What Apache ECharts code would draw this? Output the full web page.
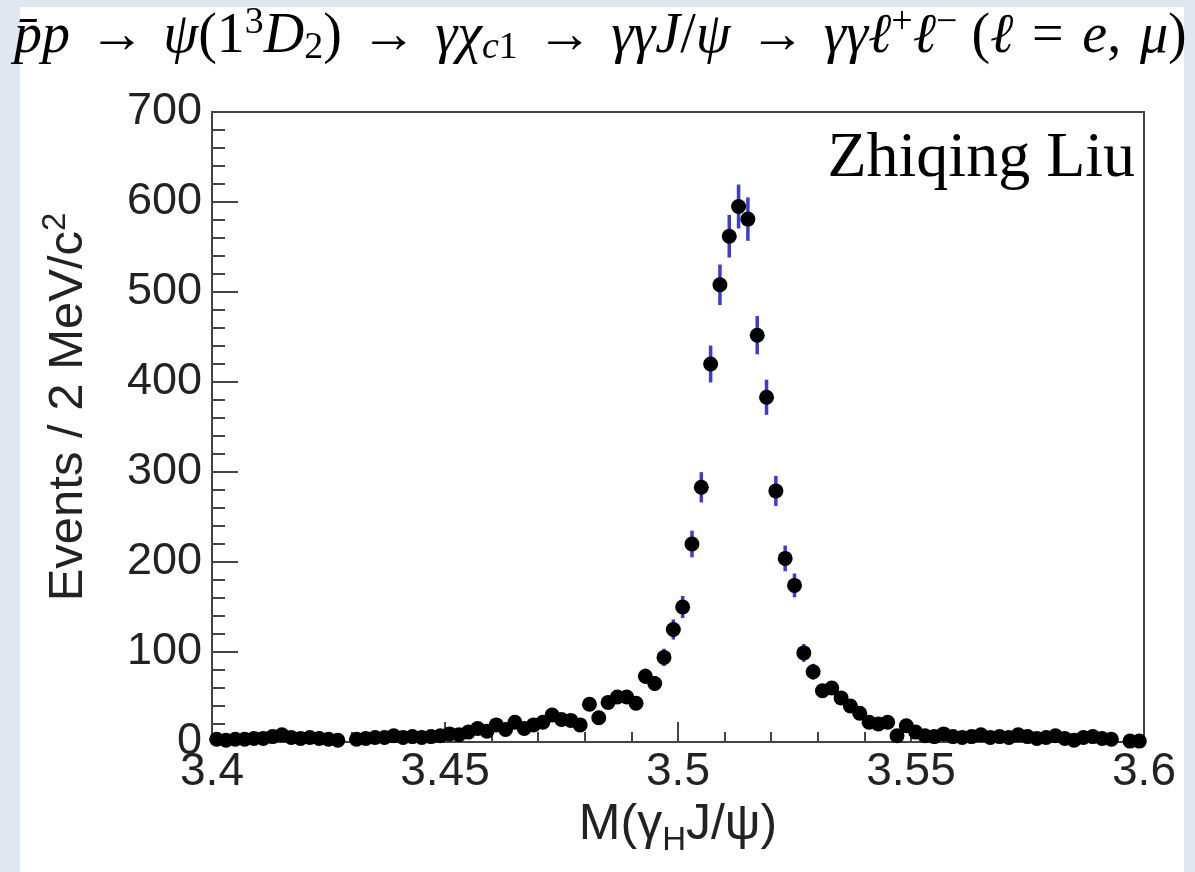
<!DOCTYPE html>
<html>
<head>
<meta charset="utf-8">
<script src="https://cdn.jsdelivr.net/npm/echarts@6/dist/echarts.min.js"></script>
<style>
html,body{margin:0;padding:0;background:#e0e7f0;}
#main{width:1195px;height:872px;}
</style>
</head>
<body>
<div id="main"></div>
<script>
// Histogram binning (2 MeV/c^2 bins from 3.40 to 3.60)
const binStart = 3.400;
const binWidth = 0.002;
// Events per bin (null = empty bin, not drawn)
const counts = [
  3, 2, 3, 3, 4, 4, 6, 8, 5, 4,
  5, 4, 3, 2, null, 3, 4, 5, 5, 7,
  5, 6, 5, 6, 7, 9, 8, 11, 15, 12,
  19, 14, 22, 15, 19, 22, 30, 25, 24, 19,
  42, 27, 44, 50, 50, 43, 73, 65, 94, 125,
  150, 220, 283, 420, 508, 562, 595, 581, 452, 383,
  279, 204, 174, 99, 78, 57, 60, 49, 40, 32,
  22, 20, 22, 7, 18, 11, 7, 6, 9, 6,
  5, 6, 8, 5, 6, 5, 8, 6, 4, 5,
  7, 4, 2, 5, 6, 4, 3, null, 1, 1
];
const xTickLabels = ['3.4', '3.45', '3.5', '3.55', '3.6'];
const yTickLabels = ['0', '100', '200', '300', '400', '500', '600', '700'];

const points = [];
const errs = [];
counts.forEach((c, i) => {
  if (c === null) return;
  const x = +(binStart + binWidth * (i + 0.5)).toFixed(4);
  points.push([x, c]);
  const e = Math.sqrt(c);   // Poisson uncertainty of each bin
  errs.push([x, c - e, c + e]);
});

const chart = echarts.init(document.getElementById('main'));
const sans = 'Liberation Sans';
const serif = 'Liberation Serif';
const titleSize = 56;
const tStyle = {fontFamily: serif, fontSize: titleSize, fill: '#000', color: '#000'};
const rich = {
  n: Object.assign({}, tStyle),
  i: Object.assign({}, tStyle, {fontStyle: 'italic'}),
  sup: Object.assign({}, tStyle, {fontSize: 38, padding: [0, 0, 28, 0]}),
  sub: Object.assign({}, tStyle, {fontSize: 38, padding: [22, 0, 0, 0]}),
  subi: Object.assign({}, tStyle, {fontSize: 38, fontStyle: 'italic', padding: [22, 0, 0, 0]})
};
const arrow = '{n| \u200a\u2192\u200a }';
const titleText =
  '{i|p\u0304p}' + arrow + '{i|\u03c8}{n|(1}{sup|3}{i|D}{sub|2}{n|)}' + arrow +
  '{i|\u03b3\u03c7}{subi|c}{sub|1}' + arrow + '{i|\u03b3\u03b3J}{n|/}{i|\u03c8}' + arrow +
  '{i|\u03b3\u03b3\u2113}{sup|+}{i|\u2113}{sup|\u2212}{n| (}{i|\u2113}{n| \u200a=\u200a }{i|e}{n|, \u200a}{i|\u03bc}{n|)}';

const yTitleRich = {
  t: {fontFamily: sans, fontSize: 49, fill: '#222', color: '#222'},
  p: {fontFamily: sans, fontSize: 33, fill: '#222', color: '#222', padding: [0, 0, 25, 0]}
};

chart.setOption({
  backgroundColor: '#e0e7f0',
  animation: false,
  graphic: [
    {type: 'rect', left: 20, top: 7, z: -10,
     shape: {width: 1164, height: 865}, style: {fill: '#ffffff'}},
    {type: 'text', left: 14, top: 4, z: 10,
     style: {text: titleText, rich: rich}},
    {type: 'text', right: 60, top: 127, z: 10,
     style: {text: 'Zhiqing Liu', fontFamily: serif, fontSize: 64, fill: '#000'}},
    {type: 'text', x: 68, y: 407, rotation: Math.PI / 2, z: 10,
     style: {text: '{t|Events / 2 MeV/c}{p|2}', rich: yTitleRich,
             align: 'center', verticalAlign: 'middle'}}
  ],
  grid: {left: 212, top: 112, width: 932, height: 630, show: true,
         borderColor: '#444', borderWidth: 2, backgroundColor: 'transparent'},
  xAxis: {
    type: 'value', min: 3.4, max: 3.6, interval: 0.05,
    name: 'M(\u03b3{s|H}J/\u03c8)', nameLocation: 'middle', nameGap: 50,
    nameTextStyle: {fontFamily: sans, fontSize: 50, color: '#222',
      rich: {s: {fontFamily: sans, fontSize: 33, color: '#222', padding: [32, 0, 0, 0]}}},
    axisLine: {show: true, onZero: false, lineStyle: {color: '#444', width: 2}},
    axisTick: {show: true, inside: true, length: 20, lineStyle: {color: '#444', width: 2}},
    minorTick: {show: true, splitNumber: 5, length: 10, lineStyle: {color: '#444', width: 2}},
    splitLine: {show: false},
    axisLabel: {fontFamily: sans, fontSize: 46, color: '#222', margin: 7,
      formatter: v => {
        const k = Math.round((v - 3.4) / 0.05);
        return xTickLabels[k] !== undefined ? xTickLabels[k] : '';
      }}
  },
  yAxis: {
    type: 'value', min: 0, max: 700, interval: 100,
    axisLine: {show: true, lineStyle: {color: '#444', width: 2}},
    axisTick: {show: true, inside: true, length: 26, lineStyle: {color: '#444', width: 2}},
    minorTick: {show: true, splitNumber: 5, length: 13, lineStyle: {color: '#444', width: 2}},
    splitLine: {show: false},
    axisLabel: {fontFamily: sans, fontSize: 45, color: '#222', margin: 10,
      formatter: v => {
        const k = Math.round(v / 100);
        return yTickLabels[k] !== undefined ? yTickLabels[k] : '';
      }}
  },
  series: [
    {
      type: 'custom', z: 2,
      renderItem: (params, api) => {
        const lo = api.coord([api.value(0), api.value(1)]);
        const hi = api.coord([api.value(0), api.value(2)]);
        return {type: 'line', shape: {x1: lo[0], y1: lo[1], x2: hi[0], y2: hi[1]},
                style: {stroke: '#3b3bd6', lineWidth: 3.5}};
      },
      encode: {x: 0, y: [1, 2]},
      data: errs
    },
    {
      type: 'scatter', z: 3, symbol: 'circle', symbolSize: 15,
      itemStyle: {color: '#000', opacity: 1},
      data: points
    }
  ]
});
</script>
</body>
</html>
